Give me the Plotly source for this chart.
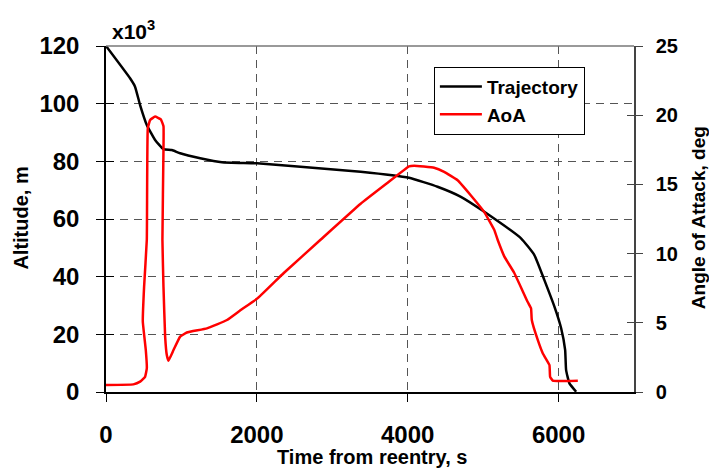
import plotly.graph_objects as go

# Trajectory (altitude in thousands of m)
traj_t = [0, 319, 385, 452, 541, 651, 762, 873, 983, 1249, 1537, 2003, 2578, 3376,
          4018, 4395, 4705, 5015, 5502, 5679, 5812, 5945, 6034, 6087, 6100, 6144, 6233]
traj_alt = [120, 108.8, 105.9, 99.5, 92.6, 87.4, 84.2, 83.9, 82.8, 81.1, 79.7, 79.3, 78.1, 76.4,
            74.3, 71.2, 67.7, 62.5, 53.3, 47.5, 38.8, 29.6, 22.1, 14.6, 7.6, 3.0, 0.1]

# Angle of attack (deg)
aoa_t = [0, 363, 452, 518, 541, 528, 488, 505, 541, 554, 585, 651, 727, 762, 762, 748,
         762, 784, 806, 828, 895, 983, 1072, 1338, 1604, 1781, 2016, 2357, 2844, 3376,
         3730, 4018, 4084, 4350, 4483, 4661, 4838, 5015, 5148, 5192, 5280, 5413, 5591,
         5635, 5645, 5724, 5790, 5879, 5888, 5923, 6255]
aoa_deg = [0.51, 0.55, 0.75, 1.1, 1.7, 3.0, 5.1, 7.6, 11.0, 19.05, 19.65, 19.9, 19.7, 19.2, 17.5, 11.0,
           7.6, 4.0, 2.67, 2.26, 3.03, 4.0, 4.3, 4.6, 5.2, 5.9, 6.8, 8.6, 11.0, 13.6,
           15.1, 16.3, 16.35, 16.2, 15.9, 15.3, 14.2, 13.0, 11.7, 11.0, 9.8, 8.6, 6.5,
           6.05, 5.2, 3.76, 2.8, 1.95, 1.1, 0.82, 0.82]

x_ticks = [0, 2000, 4000, 6000]
alt_ticks = [0, 20, 40, 60, 80, 100, 120]
aoa_ticks = [0, 5, 10, 15, 20, 25]

FONT = "Liberation Sans, Arial, sans-serif"
GRID = "#555555"

fig = go.Figure()
fig.add_trace(go.Scatter(x=traj_t, y=traj_alt, mode="lines", name="Trajectory",
                         line=dict(color="black", width=2.5, shape="spline", smoothing=0.4),
                         yaxis="y"))
fig.add_trace(go.Scatter(x=aoa_t, y=aoa_deg, mode="lines", name="AoA",
                         line=dict(color="#FF0000", width=2.5, shape="spline", smoothing=0.3),
                         yaxis="y2"))

fig.update_layout(
    width=709, height=471,
    margin=dict(l=106, r=75, t=46, b=79),
    paper_bgcolor="white", plot_bgcolor="white",
    font=dict(family=FONT, color="black"),
    showlegend=True,
    legend=dict(x=0.621, y=0.94, xanchor="left", yanchor="top",
                bgcolor="white", bordercolor="black", borderwidth=1,
                font=dict(size=19, weight="bold", family=FONT),
                tracegroupgap=0, itemwidth=42),
    xaxis=dict(range=[0, 7000], tickvals=x_ticks, showgrid=True, gridcolor=GRID,
               griddash="8px,6px", gridwidth=1, zeroline=False, automargin=False,
               showline=True, linecolor="black", linewidth=1.5,
               ticks="outside", ticklen=8, tickcolor="black",
               tickfont=dict(size=24, weight="bold"), ticklabelstandoff=12),
    yaxis=dict(range=[0, 120], tickvals=alt_ticks, showgrid=True, gridcolor=GRID,
               griddash="8px,6px", gridwidth=1, zeroline=False, automargin=False,
               showline=True, linecolor="black", linewidth=1.5,
               ticks="outside", ticklen=8, tickcolor="black",
               tickfont=dict(size=24, weight="bold"), ticklabelstandoff=12),
    yaxis2=dict(range=[0, 25], tickvals=aoa_ticks, overlaying="y", side="right",
                showgrid=False, zeroline=False, automargin=False,
                showline=True, linecolor="#444444", linewidth=1.5,
                ticks="outside", ticklen=7, tickcolor="#444444",
                tickfont=dict(size=20, weight="bold"), ticklabelstandoff=9),
    yaxis3=dict(range=[0, 120], tickvals=alt_ticks, overlaying="y", side="left",
                showgrid=False, zeroline=False, showline=False, automargin=False,
                ticks="inside", ticklen=8, tickcolor="black", showticklabels=False),
    yaxis4=dict(range=[0, 25], tickvals=aoa_ticks, overlaying="y", side="right",
                showgrid=False, zeroline=False, showline=False, automargin=False,
                ticks="inside", ticklen=7, tickcolor="#444444", showticklabels=False),
)

# invisible helper traces so the overlay tick axes render
fig.add_trace(go.Scatter(x=[0], y=[0], yaxis="y3", mode="lines", showlegend=False,
                         hoverinfo="skip", line=dict(width=0)))
fig.add_trace(go.Scatter(x=[0], y=[0], yaxis="y4", mode="lines", showlegend=False,
                         hoverinfo="skip", line=dict(width=0)))

# top border
fig.add_shape(type="line", xref="paper", yref="paper", x0=0, x1=1, y0=1, y1=1,
              line=dict(color="#777777", width=1.5))

fig.add_annotation(text="x10<sup>3</sup>", xref="paper", yref="paper", x=0.007, y=1.0,
                   xanchor="left", yanchor="bottom", yshift=1, showarrow=False,
                   font=dict(size=21, weight="bold", family=FONT))
fig.add_annotation(text="Altitude, m", xref="paper", yref="paper", x=-0.161, y=0.504,
                   xanchor="center", yanchor="middle", textangle=-90, showarrow=False,
                   font=dict(size=20, weight="bold", family=FONT))
fig.add_annotation(text="Angle of Attack, deg", xref="paper", yref="paper", x=1.121, y=0.505,
                   xanchor="center", yanchor="middle", textangle=-90, showarrow=False,
                   font=dict(size=19, weight="bold", family=FONT))
fig.add_annotation(text="Time from reentry, s", xref="paper", yref="paper", x=0.504, y=-0.188,
                   xanchor="center", yanchor="middle", showarrow=False,
                   font=dict(size=20, weight="bold", family=FONT))

fig.write_html("out.html", config={"displayModeBar": False},
               post_script="document.body.style.margin='0';document.body.style.overflow='hidden';")
